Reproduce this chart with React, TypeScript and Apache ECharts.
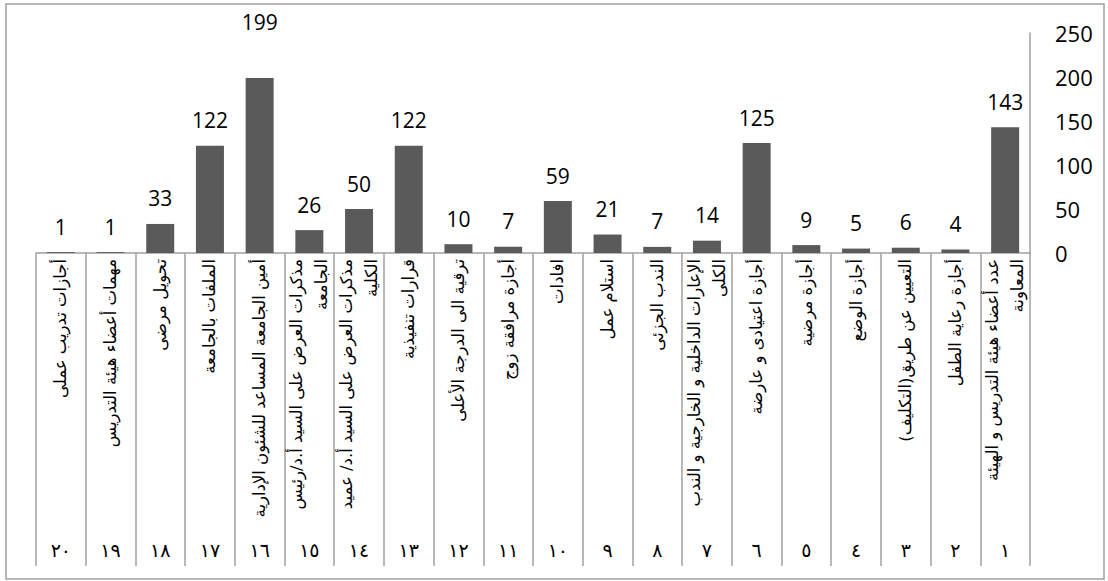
import React, { useEffect, useRef } from "react";
import * as echarts from "echarts";

const categories: string[] = [
  "عدد أعضاء هيئة التدريس و الهيئة\nالمعاونة",
  "أجازة رعاية الطفل",
  "التعيين عن طريق(التكليف)",
  "أجازة الوضع",
  "أجازة مرضية",
  "أجازة اعتيادى و عارضة",
  "الإعارات الداخلية و الخارجية و الندب\nالكلى",
  "الندب الجزئى",
  "استلام عمل",
  "افادات",
  "أجازة مرافقة زوج",
  "ترقية الى الدرجة الأعلى",
  "قرارات تنفيذية",
  "مذكرات العرض على السيد أ.د/ عميد\nالكلية",
  "مذكرات العرض على السيد أ.د/رئيس\nالجامعة",
  "أمين الجامعة المساعد للشئون الإدارية",
  "الملفات بالجامعة",
  "تحويل مرضى",
  "مهمات أعضاء هيئة التدريس",
  "أجازات تدريب عملى",
];

const numbers: string[] = [
  "١", "٢", "٣", "٤", "٥", "٦", "٧", "٨", "٩", "١٠",
  "١١", "١٢", "١٣", "١٤", "١٥", "١٦", "١٧", "١٨", "١٩", "٢٠",
];

const values: number[] = [143, 4, 6, 5, 9, 125, 14, 7, 21, 59, 7, 10, 122, 50, 26, 199, 122, 33, 1, 1];

const yTicks = { min: 0, max: 250, interval: 50 };

export default function App() {
  const ref = useRef<HTMLDivElement>(null);
  useEffect(() => {
    if (!ref.current) return;
    const chart = echarts.init(ref.current, undefined, { renderer: "svg" });
    const gray = "#a0a0a0";
    const maxIdx = values.indexOf(Math.max(...values));
    chart.setOption({
      animation: false,
      backgroundColor: "#ffffff",
      grid: { left: 36, right: 78, top: 33, bottom: 328, containLabel: false },
      graphic: [
        {
          type: "rect",
          shape: { x: 6, y: 4, width: 1098, height: 575 },
          style: { fill: "none", stroke: gray, lineWidth: 1.5 },
          silent: true,
        },
      ],
      xAxis: [
        {
          type: "category",
          data: categories,
          inverse: true,
          position: "bottom",
          axisLine: { show: true, lineStyle: { color: gray, width: 1.5 } },
          axisTick: { show: true, interval: 0, length: 313, lineStyle: { color: gray, width: 1.5 } },
          axisLabel: {
            interval: 0,
            rotate: 90,
            margin: 6,
            fontSize: 16.5,
            lineHeight: 25,
            fontFamily: "DejaVu Sans",
            color: "#000",
          },
        },
        {
          type: "category",
          data: numbers,
          inverse: true,
          position: "bottom",
          offset: 281,
          axisLine: { show: false },
          axisTick: { show: false },
          axisLabel: {
            interval: 0,
            margin: 6,
            fontSize: 19,
            fontFamily: "DejaVu Sans",
            color: "#000",
          },
        },
      ],
      yAxis: {
        type: "value",
        position: "right",
        min: yTicks.min,
        max: yTicks.max,
        interval: yTicks.interval,
        axisLine: { show: true, lineStyle: { color: gray, width: 1.5 } },
        axisTick: { show: false },
        splitLine: { show: false },
        axisLabel: {
          margin: 25,
          fontSize: 22,
          fontFamily: "Open Sans",
          color: "#000",
          align: "left",
        },
      },
      series: [
        {
          type: "bar",
          data: values.map((v, i) =>
            i === maxIdx ? { value: v, label: { distance: 45 } } : v
          ),
          xAxisIndex: 0,
          barWidth: 28,
          itemStyle: { color: "#5a5a5a" },
          label: {
            show: true,
            position: "top",
            distance: 15,
            fontSize: 21,
            fontFamily: "Open Sans",
            color: "#000",
          },
        },
      ],
    });
    return () => chart.dispose();
  }, []);
  return (
    <div
      ref={ref}
      style={{ position: "fixed", left: 0, top: 0, width: 1108, height: 581 }}
    />
  );
}
